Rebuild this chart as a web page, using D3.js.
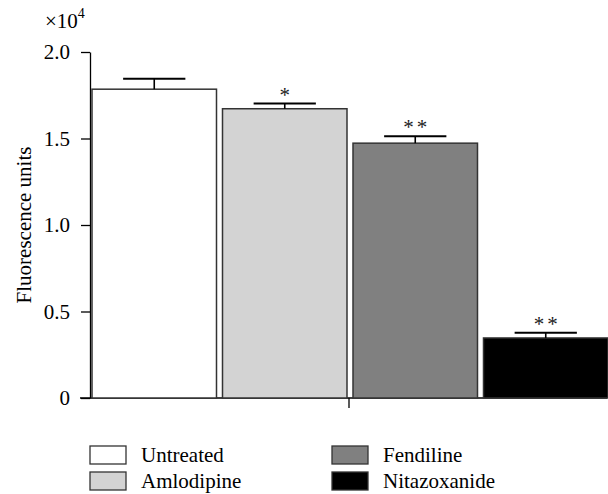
<!DOCTYPE html>
<html>
<head>
<meta charset="utf-8">
<script src="https://cdn.jsdelivr.net/npm/d3@7"></script>
<style>
  body { margin: 0; background: #fff; }
  text { font-family: "Liberation Serif", "DejaVu Serif", serif; }
</style>
</head>
<body>
<svg id="chart" width="608" height="494"></svg>
<script>
// data, in units of 10^4
var groups = ["Untreated", "Amlodipine", "Fendiline", "Nitazoxanide"];
var means = [1.785, 1.672, 1.473, 0.347];
var errors = [0.06, 0.03, 0.04, 0.03];
var marks = ["", "*", "**", "**"];
var colors = ["#ffffff", "#d3d3d3", "#808080", "#000000"];
var yTicks = [0, 0.5, 1.0, 1.5, 2.0];

var svg = d3.select("#chart");

var x = d3.scaleBand()
  .domain(groups)
  .range([92, 608])
  .paddingInner(0.046)
  .paddingOuter(0);

var y = d3.scaleLinear()
  .domain([0, 2])
  .range([398, 52]);

// y axis
var yAxis = d3.axisLeft(y)
  .tickValues(yTicks)
  .tickFormat(function (d) { return d === 0 ? "0" : d3.format(".1f")(d); })
  .tickSize(9)
  .tickSizeOuter(0)
  .tickPadding(11);

var yG = svg.append("g")
  .attr("transform", "translate(90,0)")
  .call(yAxis);
yG.attr("font-family", null);
yG.select(".domain").attr("stroke", "#000").attr("stroke-width", 1.3);
yG.selectAll(".tick line").attr("stroke", "#000").attr("stroke-width", 1.3);
yG.selectAll(".tick text")
  .attr("fill", "#000")
  .style("font-size", "21px");

// x axis line and center tick
svg.append("line")
  .attr("x1", 80).attr("x2", 607)
  .attr("y1", y(0)).attr("y2", y(0))
  .attr("stroke", "#000").attr("stroke-width", 1.3);
svg.append("line")
  .attr("x1", 349).attr("x2", 349)
  .attr("y1", y(0)).attr("y2", y(0) + 10)
  .attr("stroke", "#000").attr("stroke-width", 1.3);

// bars
svg.selectAll("rect.bar")
  .data(groups)
  .enter().append("rect")
  .attr("class", "bar")
  .attr("x", function (d) { return x(d); })
  .attr("width", x.bandwidth())
  .attr("y", function (d, i) { return y(means[i]); })
  .attr("height", function (d, i) { return y(0) - y(means[i]); })
  .attr("fill", function (d, i) { return colors[i]; })
  .attr("stroke", "#333")
  .attr("stroke-width", 1.5);

// error bars
var capW = x.bandwidth() / 2;
var eb = svg.selectAll("g.err")
  .data(groups)
  .enter().append("g")
  .attr("class", "err");
eb.append("line")
  .attr("x1", function (d) { return x(d) + x.bandwidth() / 2; })
  .attr("x2", function (d) { return x(d) + x.bandwidth() / 2; })
  .attr("y1", function (d, i) { return y(means[i]); })
  .attr("y2", function (d, i) { return y(means[i] + errors[i]); })
  .attr("stroke", "#000").attr("stroke-width", 1.6);
eb.append("line")
  .attr("x1", function (d) { return x(d) + x.bandwidth() / 2 - capW / 2; })
  .attr("x2", function (d) { return x(d) + x.bandwidth() / 2 + capW / 2; })
  .attr("y1", function (d, i) { return y(means[i] + errors[i]); })
  .attr("y2", function (d, i) { return y(means[i] + errors[i]); })
  .attr("stroke", "#000").attr("stroke-width", 2);

// significance marks
svg.selectAll("text.sig")
  .data(groups)
  .enter().append("text")
  .attr("class", "sig")
  .attr("x", function (d) { return x(d) + x.bandwidth() / 2 + 1.5; })
  .attr("y", function (d, i) { return y(means[i] + errors[i]) - 2; })
  .attr("text-anchor", "middle")
  .attr("fill", "#222")
  .style("font-size", "21px")
  .style("letter-spacing", "3px")
  .text(function (d, i) { return marks[i]; });

// multiplier
var mult = svg.append("text")
  .attr("x", 45).attr("y", 28)
  .style("font-size", "21px");
mult.append("tspan").text("\u00d710");
mult.append("tspan").attr("dy", -10).style("font-size", "14px").text("4");

// y label
svg.append("text")
  .attr("transform", "translate(31,225) rotate(-90)")
  .attr("text-anchor", "middle")
  .style("font-size", "21px")
  .text("Fluorescence units");

// legend
var legPos = [[90, 446], [90, 472], [332, 446], [332, 472]];
var leg = svg.selectAll("g.leg")
  .data(groups)
  .enter().append("g")
  .attr("class", "leg")
  .attr("transform", function (d, i) { return "translate(" + legPos[i][0] + "," + legPos[i][1] + ")"; });
leg.append("rect")
  .attr("width", 36).attr("height", 18)
  .attr("fill", function (d, i) { return colors[i]; })
  .attr("stroke", "#333").attr("stroke-width", 1.3);
leg.append("text")
  .attr("x", 51).attr("y", 16)
  .style("font-size", "21px")
  .text(function (d) { return d; });
</script>
</body>
</html>
